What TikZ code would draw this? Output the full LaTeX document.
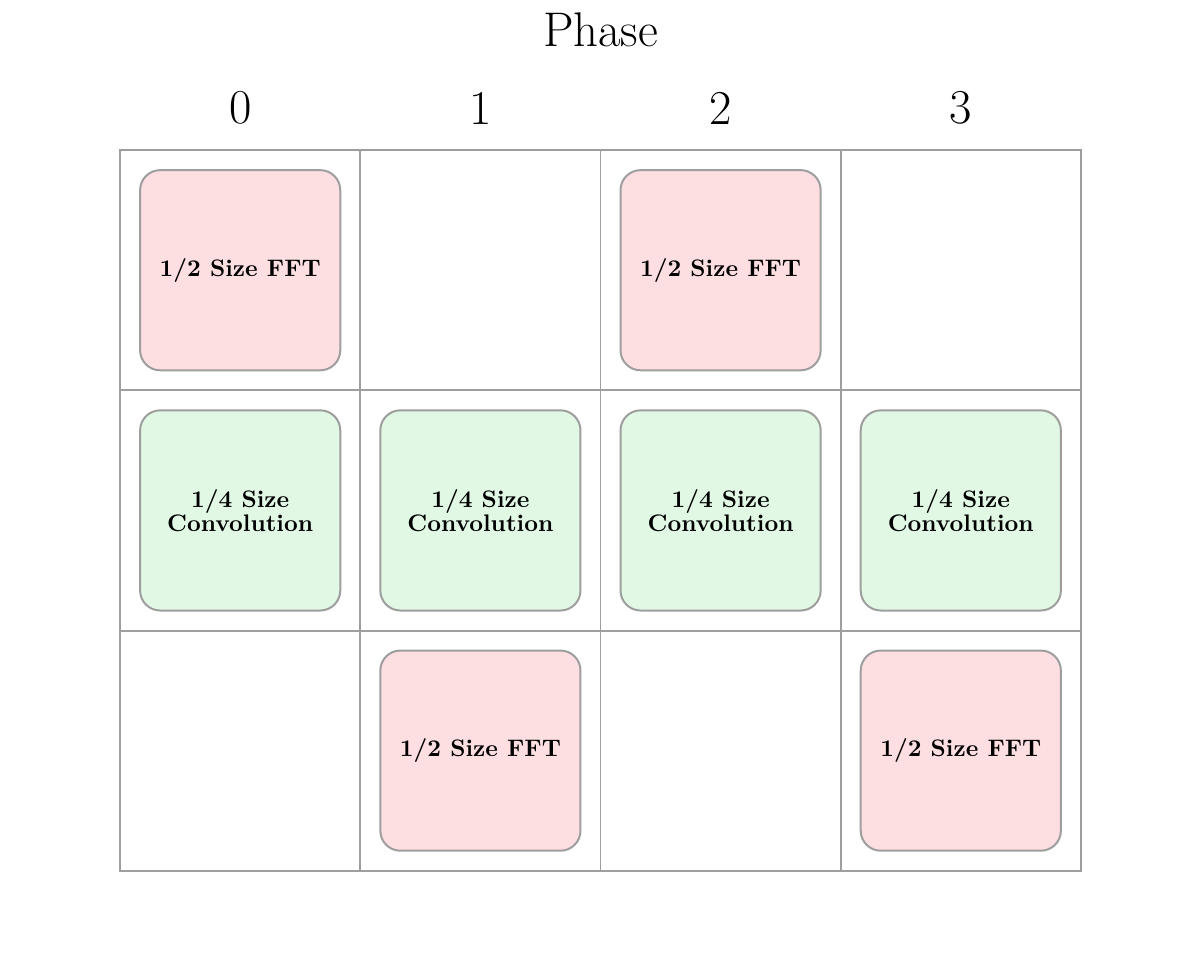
\documentclass[tikz,border=0pt]{standalone}
\usepackage{tikz}
\usetikzlibrary{positioning}

\definecolor{fftpink}{RGB}{253,222,225}
\definecolor{convgreen}{RGB}{224,248,228}
\definecolor{linegray}{RGB}{158,158,158}

\begin{document}
\begin{tikzpicture}[
    font=\huge,
    gridline/.style={draw=linegray, line width=0.85pt},
    task/.style={draw=linegray, line width=0.85pt, rectangle, rounded corners=0.3cm, minimum width=3cm, minimum height=3cm, align=center, font=\bfseries\fontsize{10.2}{10.4}\selectfont},
    fft/.style={task, fill=fftpink},
    conv/.style={task, fill=convgreen}
]
    \useasboundingbox (-1.8,2.25) rectangle (16.2,-12.15);

    % Schedule grid (4 phases x 3 rows)
    \draw[gridline] (0,0) rectangle (14.4,-10.8);
    \draw[gridline] (3.6,0) -- (3.6,-10.8) (7.2,0) -- (7.2,-10.8) (10.8,0) -- (10.8,-10.8);
    \draw[gridline] (0,-3.6) -- (14.4,-3.6) (0,-7.2) -- (14.4,-7.2);

    % Header
    \node (phase) at (7.2,1.8) {Phase};
    \node (p0) at (1.8,0.63) {0};
    \node (p1) at (5.4,0.63) {1};
    \node (p2) at (9.0,0.63) {2};
    \node (p3) at (12.6,0.63) {3};

    % Top row: half size FFTs
    \node[fft] (fft0) at (1.8,-1.8) {1/2 Size FFT};
    \node[fft] (fft2) at (9.0,-1.8) {1/2 Size FFT};

    % Middle row: quarter size convolutions
    \node[conv] (conv0) at (1.8,-5.4) {1/4 Size\\Convolution};
    \node[conv] (conv1) at (5.4,-5.4) {1/4 Size\\Convolution};
    \node[conv] (conv2) at (9.0,-5.4) {1/4 Size\\Convolution};
    \node[conv] (conv3) at (12.6,-5.4) {1/4 Size\\Convolution};

    % Bottom row: half size FFTs
    \node[fft] (fft1) at (5.4,-9.0) {1/2 Size FFT};
    \node[fft] (fft3) at (12.6,-9.0) {1/2 Size FFT};

\end{tikzpicture}
\end{document}
